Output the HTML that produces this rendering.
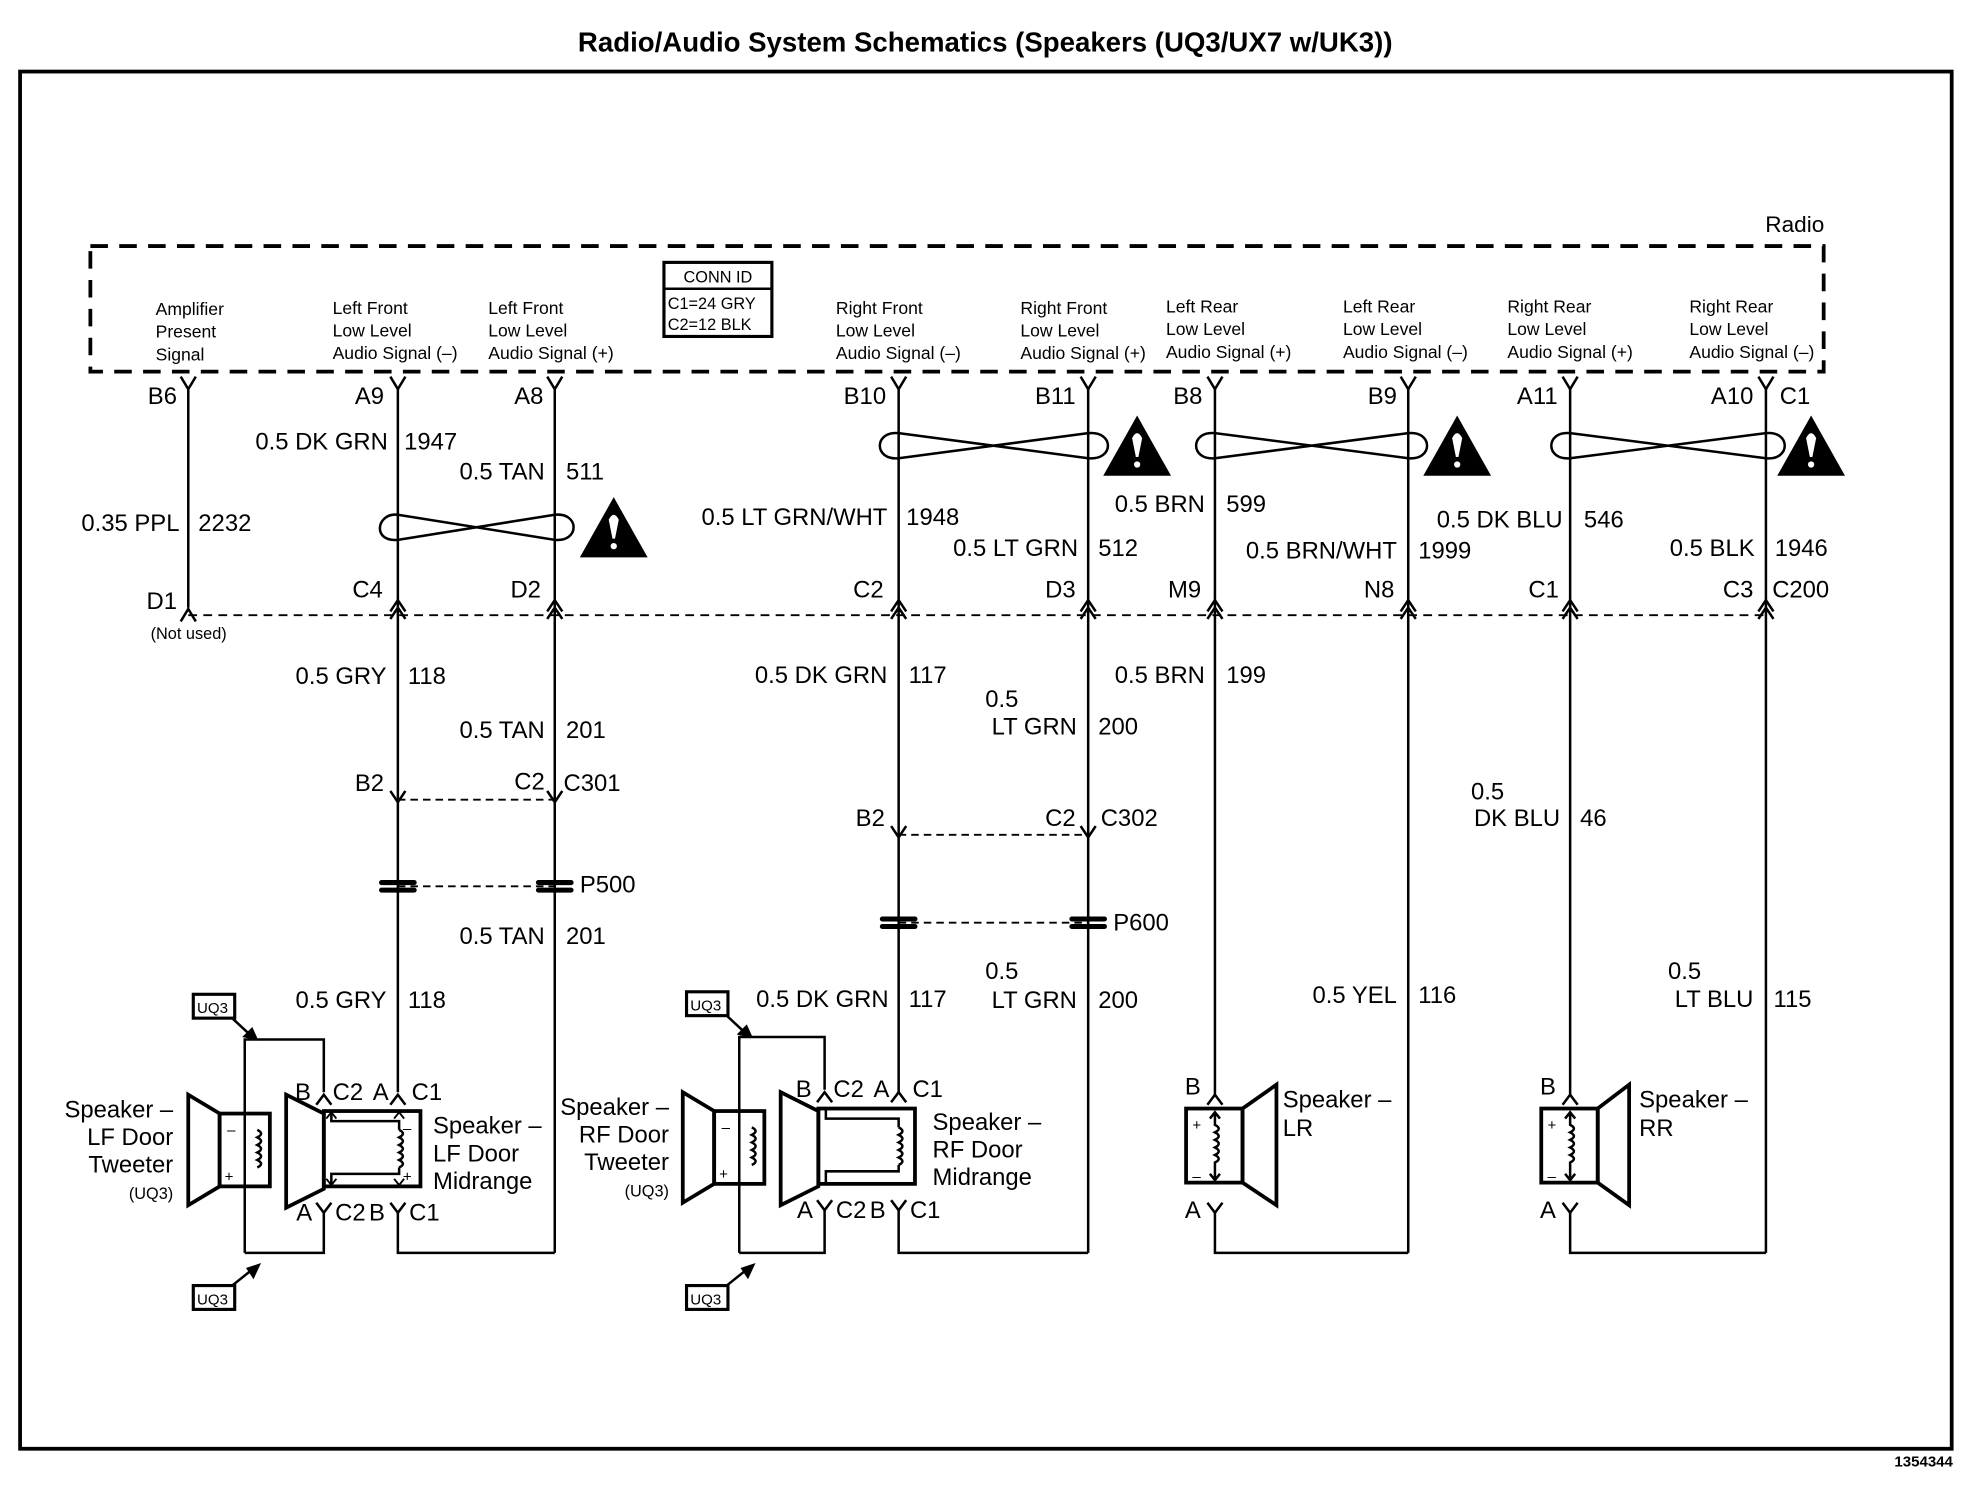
<!DOCTYPE html>
<html><head><meta charset="utf-8"><style>
html,body{margin:0;padding:0;background:#fff;}
svg{display:block;}
text{font-family:"Liberation Sans",Arial,sans-serif;fill:#000;}
.w{font-size:19px;}
.s{font-size:14px;}
.sp{font-size:19px;}
</style></head><body>
<svg width="1968" height="1504" viewBox="0 0 1568 1198" preserveAspectRatio="none" xmlns="http://www.w3.org/2000/svg">
<rect width="1568" height="1198" fill="#fff"/>
<text x="785" y="41" font-size="22" font-weight="bold" text-anchor="middle">Radio/Audio System Schematics (Speakers (UQ3/UX7 w/UK3))</text>
<rect x="16" y="57" width="1539" height="1097" fill="none" stroke="#000" stroke-width="3"/>
<text x="1556" y="1168" font-size="12" text-anchor="end" font-weight="bold">1354344</text>

<!-- Radio box -->
<text x="1430" y="185" font-size="18" text-anchor="middle">Radio</text>
<rect x="72" y="196" width="1381" height="100" fill="none" stroke="#000" stroke-width="3" stroke-dasharray="14,9"/>
<rect x="529" y="209" width="86" height="59" fill="none" stroke="#000" stroke-width="2.5"/>
<line x1="529" y1="230" x2="615" y2="230" stroke="#000" stroke-width="2"/>
<text x="572" y="225" font-size="13" text-anchor="middle">CONN ID</text>
<text x="532" y="246" font-size="13">C1=24 GRY</text>
<text x="532" y="263" font-size="13">C2=12 BLK</text>

<g class="s">
<text x="124" y="251">Amplifier</text><text x="124" y="269">Present</text><text x="124" y="287">Signal</text>
<text x="265" y="250">Left Front</text><text x="265" y="268">Low Level</text><text x="265" y="286">Audio Signal (–)</text>
<text x="389" y="250">Left Front</text><text x="389" y="268">Low Level</text><text x="389" y="286">Audio Signal (+)</text>
<text x="666" y="250">Right Front</text><text x="666" y="268">Low Level</text><text x="666" y="286">Audio Signal (–)</text>
<text x="813" y="250">Right Front</text><text x="813" y="268">Low Level</text><text x="813" y="286">Audio Signal (+)</text>
<text x="929" y="249">Left Rear</text><text x="929" y="267">Low Level</text><text x="929" y="285">Audio Signal (+)</text>
<text x="1070" y="249">Left Rear</text><text x="1070" y="267">Low Level</text><text x="1070" y="285">Audio Signal (–)</text>
<text x="1201" y="249">Right Rear</text><text x="1201" y="267">Low Level</text><text x="1201" y="285">Audio Signal (+)</text>
<text x="1346" y="249">Right Rear</text><text x="1346" y="267">Low Level</text><text x="1346" y="285">Audio Signal (–)</text>
</g>

<g stroke="#000" stroke-width="2" fill="none">
<!-- top connector Y glyphs -->
<path d="M144 300 L150 310 L156 300 M311 300 L317 310 L323 300 M436 300 L442 310 L448 300 M710 300 L716 310 L722 300 M861 300 L867 310 L873 300 M962 300 L968 310 L974 300 M1116 300 L1122 310 L1128 300 M1245 300 L1251 310 L1257 300 M1401 300 L1407 310 L1413 300"/>
<!-- wires -->
<line x1="150" y1="310" x2="150" y2="484"/>
<line x1="317" y1="310" x2="317" y2="870"/>
<line x1="442" y1="310" x2="442" y2="998"/>
<line x1="716" y1="310" x2="716" y2="870"/>
<line x1="867" y1="310" x2="867" y2="998"/>
<line x1="968" y1="310" x2="968" y2="872"/>
<line x1="1122" y1="310" x2="1122" y2="998"/>
<line x1="1251" y1="310" x2="1251" y2="872"/>
<line x1="1407" y1="310" x2="1407" y2="998"/>
<!-- C200 dashed -->
<line x1="150" y1="490" x2="1407" y2="490" stroke-width="1.5" stroke-dasharray="7,5"/>
<path d="M144 495 L150 485 L156 495 M311 487 L317 478 L323 487 M311 493 L317 484 L323 493 M436 487 L442 478 L448 487 M436 493 L442 484 L448 493 M710 487 L716 478 L722 487 M710 493 L716 484 L722 493 M861 487 L867 478 L873 487 M861 493 L867 484 L873 493 M962 487 L968 478 L974 487 M962 493 L968 484 L974 493 M1116 487 L1122 478 L1128 487 M1116 493 L1122 484 L1128 493 M1245 487 L1251 478 L1257 487 M1245 493 L1251 484 L1257 493 M1401 487 L1407 478 L1413 487 M1401 493 L1407 484 L1413 493"/>
<!-- C301/C302 -->
<path d="M311 630 L317 639 L323 630 M436 630 L442 639 L448 630 M710 658 L716 667 L722 658 M861 658 L867 667 L873 658"/>
<line x1="317" y1="637" x2="442" y2="637" stroke-width="1.5" stroke-dasharray="6,4"/>
<line x1="716" y1="665" x2="867" y2="665" stroke-width="1.5" stroke-dasharray="6,4"/>
<!-- P500/P600 -->
<line x1="317" y1="706" x2="442" y2="706" stroke-width="1.5" stroke-dasharray="6,4"/>
<line x1="716" y1="735" x2="867" y2="735" stroke-width="1.5" stroke-dasharray="6,4"/>
<!-- twisted pairs -->
<path d="M317 410 C300 408 296 432 317 430 L442 410 C462 408 462 432 442 430 Z"/>
<path d="M716 345 C696 343 696 367 716 365 L867 345 C888 343 888 367 867 365 Z"/>
<path d="M968 345 C948 343 948 367 968 365 L1122 345 C1142 343 1142 367 1122 365 Z"/>
<path d="M1251 345 C1231 343 1231 367 1251 365 L1407 345 C1427 343 1427 367 1407 365 Z"/>
</g>
<g fill="#000">
<rect x="302" y="701" width="30" height="4" rx="2"/><rect x="302" y="707" width="30" height="4" rx="2"/>
<rect x="427" y="701" width="30" height="4" rx="2"/><rect x="427" y="707" width="30" height="4" rx="2"/>
<rect x="701" y="730" width="30" height="4" rx="2"/><rect x="701" y="736" width="30" height="4" rx="2"/>
<rect x="852" y="730" width="30" height="4" rx="2"/><rect x="852" y="736" width="30" height="4" rx="2"/>
</g>
<!-- warning triangles -->
<g>
<g transform="translate(489,420)"><polygon points="0,-24 27,24 -27,24" fill="#000"/><path d="M-4,-6 Q0,-14 4,-6 L1,9 L-1,9 Z" fill="#fff"/><circle cx="0" cy="15" r="2.5" fill="#fff"/></g>
<g transform="translate(906,355)"><polygon points="0,-24 27,24 -27,24" fill="#000"/><path d="M-4,-6 Q0,-14 4,-6 L1,9 L-1,9 Z" fill="#fff"/><circle cx="0" cy="15" r="2.5" fill="#fff"/></g>
<g transform="translate(1161,355)"><polygon points="0,-24 27,24 -27,24" fill="#000"/><path d="M-4,-6 Q0,-14 4,-6 L1,9 L-1,9 Z" fill="#fff"/><circle cx="0" cy="15" r="2.5" fill="#fff"/></g>
<g transform="translate(1443,355)"><polygon points="0,-24 27,24 -27,24" fill="#000"/><path d="M-4,-6 Q0,-14 4,-6 L1,9 L-1,9 Z" fill="#fff"/><circle cx="0" cy="15" r="2.5" fill="#fff"/></g>
</g>

<g class="w">
<text x="141" y="322" text-anchor="end">B6</text><text x="306" y="322" text-anchor="end">A9</text><text x="433" y="322" text-anchor="end">A8</text>
<text x="706" y="322" text-anchor="end">B10</text><text x="857" y="322" text-anchor="end">B11</text><text x="958" y="322" text-anchor="end">B8</text>
<text x="1113" y="322" text-anchor="end">B9</text><text x="1241" y="322" text-anchor="end">A11</text><text x="1397" y="322" text-anchor="end">A10</text><text x="1418" y="322">C1</text>

<text x="309" y="358" text-anchor="end">0.5 DK GRN</text><text x="322" y="358">1947</text>
<text x="434" y="382" text-anchor="end">0.5 TAN</text><text x="451" y="382">511</text>
<text x="143" y="423" text-anchor="end">0.35 PPL</text><text x="158" y="423">2232</text>
<text x="707" y="418" text-anchor="end">0.5 LT GRN/WHT</text><text x="722" y="418">1948</text>
<text x="859" y="443" text-anchor="end">0.5 LT GRN</text><text x="875" y="443">512</text>
<text x="960" y="408" text-anchor="end">0.5 BRN</text><text x="977" y="408">599</text>
<text x="1113" y="445" text-anchor="end">0.5 BRN/WHT</text><text x="1130" y="445">1999</text>
<text x="1245" y="420" text-anchor="end">0.5 DK BLU</text><text x="1262" y="420">546</text>
<text x="1398" y="443" text-anchor="end">0.5 BLK</text><text x="1414" y="443">1946</text>

<text x="141" y="485" text-anchor="end">D1</text><text x="305" y="476" text-anchor="end">C4</text><text x="431" y="476" text-anchor="end">D2</text>
<text x="704" y="476" text-anchor="end">C2</text><text x="857" y="476" text-anchor="end">D3</text><text x="957" y="476" text-anchor="end">M9</text>
<text x="1111" y="476" text-anchor="end">N8</text><text x="1242" y="476" text-anchor="end">C1</text><text x="1397" y="476" text-anchor="end">C3</text><text x="1412" y="476">C200</text>

<text x="308" y="545" text-anchor="end">0.5 GRY</text><text x="325" y="545">118</text>
<text x="434" y="588" text-anchor="end">0.5 TAN</text><text x="451" y="588">201</text>
<text x="707" y="544" text-anchor="end">0.5 DK GRN</text><text x="724" y="544">117</text>
<text x="785" y="563">0.5</text><text x="858" y="585" text-anchor="end">LT GRN</text><text x="875" y="585">200</text>
<text x="960" y="544" text-anchor="end">0.5 BRN</text><text x="977" y="544">199</text>

<text x="306" y="630" text-anchor="end">B2</text><text x="434" y="629" text-anchor="end">C2</text><text x="449" y="630">C301</text>
<text x="705" y="658" text-anchor="end">B2</text><text x="857" y="658" text-anchor="end">C2</text><text x="877" y="658">C302</text>
<text x="1172" y="637">0.5</text><text x="1243" y="658" text-anchor="end">DK BLU</text><text x="1259" y="658">46</text>
<text x="462" y="711">P500</text><text x="887" y="741">P600</text>
<text x="434" y="752" text-anchor="end">0.5 TAN</text><text x="451" y="752">201</text>
<text x="308" y="803" text-anchor="end">0.5 GRY</text><text x="325" y="803">118</text>
<text x="708" y="802" text-anchor="end">0.5 DK GRN</text><text x="724" y="802">117</text>
<text x="785" y="780">0.5</text><text x="858" y="803" text-anchor="end">LT GRN</text><text x="875" y="803">200</text>
<text x="1113" y="799" text-anchor="end">0.5 YEL</text><text x="1130" y="799">116</text>
<text x="1329" y="780">0.5</text><text x="1397" y="802" text-anchor="end">LT BLU</text><text x="1413" y="802">115</text>
</g>
<text x="120" y="509" font-size="13">(Not used)</text>

<!-- Front speaker groups -->
<g id="lf">
<g stroke="#000" fill="none">
<polyline points="195,998 195,828 258,828 258,870" stroke-width="2"/>
<polyline points="195,998 258,998 258,965" stroke-width="2"/>
<polyline points="317,965 317,998 442,998" stroke-width="2"/>
<path d="M252 880 L258 872 L264 880 M252 958 L258 966 L264 958 M311 880 L317 872 L323 880 M311 958 L317 966 L323 958" stroke-width="2"/>
<polygon points="150,872 175,887 175,945 150,960" stroke-width="3"/>
<rect x="175" y="887" width="40" height="58" stroke-width="3"/>
<path d="M205 900 q6 3 0 6 q6 3 0 6 q6 3 0 6 q6 3 0 6 q6 3 0 6" stroke-width="2"/>
<polygon points="228,872 258,887 258,947 228,962" stroke-width="3"/>
<rect x="258" y="885" width="77" height="60" stroke-width="3"/>
<polyline points="264,886 264,893 318,893 318,900" stroke-width="2"/>
<path d="M318 900 q6 3 0 6 q6 3 0 6 q6 3 0 6 q6 3 0 6 q6 3 0 6" stroke-width="2"/>
<polyline points="318,930 318,935 264,935 264,944" stroke-width="2"/>
<path d="M260 891 L264 886 L268 891 M260 939 L264 944 L268 939 M314 891 L318 886 L322 891 M314 939 L318 944 L322 939" stroke-width="1.5"/>
<rect x="154" y="792" width="33" height="19" stroke-width="2.5"/>
<rect x="154" y="1024" width="33" height="19" stroke-width="2.5"/>
<line x1="185" y1="811" x2="200" y2="825" stroke-width="2"/>
<line x1="185" y1="1024" x2="200" y2="1012" stroke-width="2"/>
</g>
<polygon points="206,829 193,826 201,818" fill="#000"/>
<polygon points="208,1006 196,1010 202,1019" fill="#000"/>
<text x="157" y="807" font-size="12">UQ3</text><text x="157" y="1039" font-size="12">UQ3</text>
<text x="181" y="904" font-size="12">–</text><text x="179" y="941" font-size="12">+</text>
<text x="321" y="903" font-size="12">–</text><text x="321" y="941" font-size="12">+</text>
<g class="sp">
<text x="235" y="876">B</text><text x="265" y="876">C2</text><text x="297" y="876">A</text><text x="328" y="876">C1</text>
<text x="236" y="972">A</text><text x="267" y="972">C2</text><text x="294" y="972">B</text><text x="326" y="972">C1</text>
<text x="345" y="903">Speaker –</text><text x="345" y="925">LF Door</text><text x="345" y="947">Midrange</text>
<text x="138" y="890" text-anchor="end">Speaker –</text><text x="138" y="912" text-anchor="end">LF Door</text><text x="138" y="934" text-anchor="end">Tweeter</text>
</g>
<text x="138" y="955" font-size="13" text-anchor="end">(UQ3)</text>
</g>

<g transform="translate(394,-2)">
<g stroke="#000" fill="none">
<polyline points="195,1000 195,828 263,828 263,870" stroke-width="2"/>
<polyline points="195,1000 263,1000 263,965" stroke-width="2"/>
<polyline points="322,965 322,1000 473,1000" stroke-width="2"/>
<path d="M257 880 L263 872 L269 880 M257 958 L263 966 L269 958 M316 880 L322 872 L328 880 M316 958 L322 966 L328 958" stroke-width="2"/>
<polygon points="150,872 175,887 175,945 150,960" stroke-width="3"/>
<rect x="175" y="887" width="40" height="58" stroke-width="3"/>
<path d="M205 900 q6 3 0 6 q6 3 0 6 q6 3 0 6 q6 3 0 6 q6 3 0 6" stroke-width="2"/>
<polygon points="228,872 258,887 258,947 228,962" stroke-width="3"/>
<rect x="258" y="885" width="77" height="60" stroke-width="3"/>
<polyline points="264,886 264,893 322,893 322,900" stroke-width="2"/>
<path d="M322 900 q6 3 0 6 q6 3 0 6 q6 3 0 6 q6 3 0 6 q6 3 0 6" stroke-width="2"/>
<polyline points="322,930 322,935 264,935 264,944" stroke-width="2"/>
<rect x="153" y="792" width="33" height="19" stroke-width="2.5"/>
<rect x="153" y="1026" width="33" height="19" stroke-width="2.5"/>
<line x1="185" y1="811" x2="200" y2="825" stroke-width="2"/>
<line x1="185" y1="1026" x2="200" y2="1014" stroke-width="2"/>
</g>
<polygon points="206,829 193,826 201,818" fill="#000"/>
<polygon points="208,1008 196,1012 202,1021" fill="#000"/>
<text x="156" y="807" font-size="12">UQ3</text><text x="156" y="1041" font-size="12">UQ3</text>
<text x="181" y="904" font-size="12">–</text><text x="179" y="941" font-size="12">+</text>
<g class="sp">
<text x="240" y="876">B</text><text x="270" y="876">C2</text><text x="302" y="876">A</text><text x="333" y="876">C1</text>
<text x="241" y="972">A</text><text x="272" y="972">C2</text><text x="299" y="972">B</text><text x="331" y="972">C1</text>
<text x="349" y="902">Speaker –</text><text x="349" y="924">RF Door</text><text x="349" y="946">Midrange</text>
<text x="139" y="890" text-anchor="end">Speaker –</text><text x="139" y="912" text-anchor="end">RF Door</text><text x="139" y="934" text-anchor="end">Tweeter</text>
</g>
<text x="139" y="955" font-size="13" text-anchor="end">(UQ3)</text>
</g>

<!-- Rear speakers -->
<g stroke="#000" fill="none">
<polyline points="968,965 968,998 1122,998" stroke-width="2"/>
<path d="M962 880 L968 872 L974 880 M962 958 L968 966 L974 958" stroke-width="2"/>
<rect x="945" y="883" width="45" height="59" stroke-width="3"/>
<polygon points="990,883 1017,864 1017,960 990,942" stroke-width="3"/>
<path d="M968 886 L968 896 q6 3 0 6 q6 3 0 6 q6 3 0 6 q6 3 0 6 q6 3 0 6 L968 940 M964 891 L968 886 L972 891 M964 935 L968 940 L972 935" stroke-width="2"/>
<polyline points="1251,965 1251,998 1407,998" stroke-width="2"/>
<path d="M1245 880 L1251 872 L1257 880 M1245 958 L1251 966 L1257 958" stroke-width="2"/>
<rect x="1228" y="883" width="45" height="59" stroke-width="3"/>
<polygon points="1273,883 1298,864 1298,960 1273,942" stroke-width="3"/>
<path d="M1251 886 L1251 896 q6 3 0 6 q6 3 0 6 q6 3 0 6 q6 3 0 6 q6 3 0 6 L1251 940 M1247 891 L1251 886 L1255 891 M1247 935 L1251 940 L1255 935" stroke-width="2"/>
</g>
<text x="950" y="900" font-size="12">+</text><text x="950" y="941" font-size="12">–</text>
<text x="1233" y="900" font-size="12">+</text><text x="1233" y="941" font-size="12">–</text>
<g class="sp">
<text x="944" y="872">B</text><text x="944" y="970">A</text>
<text x="1022" y="882">Speaker –</text><text x="1022" y="905">LR</text>
<text x="1227" y="872">B</text><text x="1227" y="970">A</text>
<text x="1306" y="882">Speaker –</text><text x="1306" y="905">RR</text>
</g>
</svg>
</body></html>
